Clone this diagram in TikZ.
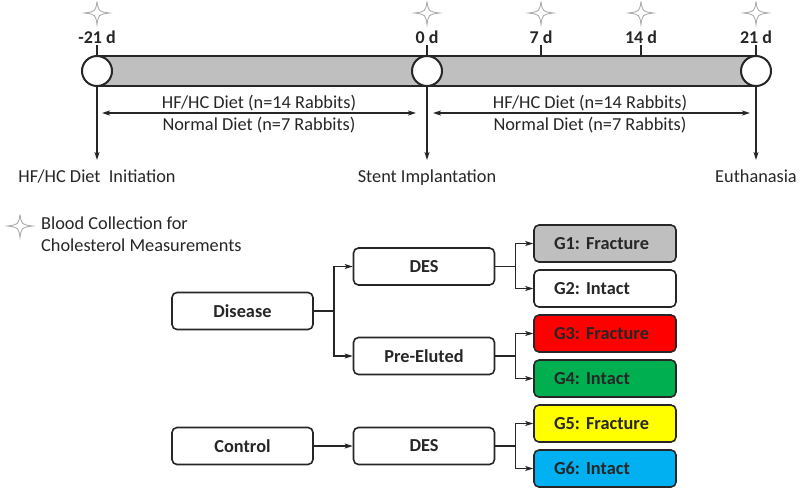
\documentclass[tikz,border=0pt]{standalone}
\usepackage{fontspec}
\setmainfont{Carlito}
\usetikzlibrary{arrows.meta}
\definecolor{barg}{HTML}{BFBFBF}
\definecolor{gred}{HTML}{FF0000}
\definecolor{ggreen}{HTML}{00B050}
\definecolor{gyellow}{HTML}{FFFF00}
\definecolor{gblue}{HTML}{00B0F0}
\definecolor{ln}{HTML}{262626}
\frenchspacing
\tikzset{
  txt/.style={font=\fontsize{18.3}{21}\selectfont, text=ln, inner sep=1pt},
  daylab/.style={font=\bfseries\fontsize{18}{21}\selectfont, text=ln, inner sep=1pt},
  circ/.style={circle, draw=ln, fill=white, line width=2pt, minimum size=30pt, inner sep=0pt},
  arr/.style={draw=ln, line width=1.4pt, -{Stealth[length=8pt,width=5pt,inset=2pt]}},
  darr/.style={draw=ln, line width=1.4pt, {Stealth[length=8pt,width=5pt,inset=2pt]}-{Stealth[length=8pt,width=5pt,inset=2pt]}},
  conn/.style={draw=ln, line width=1.6pt},
  box/.style={draw=ln, rounded corners=5pt, line width=1.6pt, minimum width=141pt, minimum height=37pt,
     font=\bfseries\fontsize{18.3}{21}\selectfont, text=ln, inner sep=0pt},
  gbox/.style={box, text width=102pt, align=left, inner xsep=20pt},
  starpic/.pic={\draw[gray!65, line width=0.9pt]
     (0,-11.5) .. controls (1.5,-1.5) .. (12.5,0) .. controls (1.5,1.5) .. (0,11.5)
     .. controls (-1.5,1.5) .. (-12.5,0) .. controls (-1.5,-1.5) .. (0,-11.5);}
}
\begin{document}
\begin{tikzpicture}[x=1pt,y=-1pt]
\useasboundingbox (0,0) rectangle (800,491);
% bar
\fill[barg] (97,56) rectangle (756,86);
\draw[ln, line width=2pt] (97,56) -- (756,56) (97,86) -- (756,86);
% ticks and stars
\foreach \x in {97,427,541,641,756}{
  \draw[ln, line width=2pt] (\x,56) -- (\x,45);
  \pic at (\x,13) {starpic};
}
\node[daylab] (dm21) at (97,37) {-21 d};
\node[daylab] (d0) at (427,37) {0 d};
\node[daylab] (d7) at (541,37) {7 d};
\node[daylab] (d14) at (641,37) {14 d};
\node[daylab] (d21) at (756,37) {21 d};
% circles
\node[circ] (c0) at (97,71) {};
\node[circ] (c1) at (427,71) {};
\node[circ] (c2) at (756,71) {};
% bottom labels
\node[txt, anchor=north] (l0) at (97,169) {HF/HC Diet\ \ Initiation};
\node[txt, anchor=north] (l1) at (427,169) {Stent Implantation};
\node[txt, anchor=north] (l2) at (756,169) {Euthanasia};
\draw[arr] (c0.south) -- ([yshift=9pt]l0.north);
\draw[arr] (c1.south) -- ([yshift=9pt]l1.north);
\draw[arr] (c2.south) -- ([yshift=9pt]l2.north);
% diet arrows
\coordinate (a0) at (97,113);
\coordinate (a1) at (427,113);
\coordinate (a2) at (756,113);
\draw[darr, shorten <=5pt, shorten >=11pt] (a0) -- (a1);
\draw[darr, shorten <=6pt, shorten >=6pt] (a1) -- (a2);
\node[txt] (t1) at (259,103) {HF/HC Diet (n=14 Rabbits)};
\node[txt] (t2) at (259,125) {Normal Diet (n=7 Rabbits)};
\node[txt] (t3) at (590,103) {HF/HC Diet (n=14 Rabbits)};
\node[txt] (t4) at (590,125) {Normal Diet (n=7 Rabbits)};
% legend
\pic at (20,226) {starpic};
\node[txt, anchor=west, align=left, font=\fontsize{18.3}{22}\selectfont] (leg) at (40,234) {Blood Collection for\\Cholesterol Measurements};
% flow boxes
\node[box] (dis) at (242.5,311) {Disease};
\node[box] (ctl) at (242.5,446) {Control};
\node[box] (des1) at (424,266.5) {DES};
\node[box] (pre) at (424,356) {Pre-Eluted};
\node[box] (des2) at (424,446) {DES};
\node[gbox, fill=barg] (g1) at (605,243.5) {G1: Fracture};
\node[gbox, fill=white] (g2) at (605,288.5) {G2: Intact};
\node[gbox, fill=gred] (g3) at (605,333.5) {G3: Fracture};
\node[gbox, fill=ggreen] (g4) at (605,378.5) {G4: Intact};
\node[gbox, fill=gyellow] (g5) at (605,423.5) {G5: Fracture};
\node[gbox, fill=gblue] (g6) at (605,468.5) {G6: Intact};
% connectors
\draw[conn] (dis.east) -- ++(20,0) coordinate (j1);
\draw[arr] (j1) |- (des1.west);
\draw[arr] (j1) |- (pre.west);
\draw[arr] (ctl.east) -- (des2.west);
\draw[conn] (des1.east) -- ++(20,0) coordinate (j2);
\draw[arr] (j2) |- (g1.west);
\draw[arr] (j2) |- (g2.west);
\draw[conn] (pre.east) -- ++(20,0) coordinate (j3);
\draw[arr] (j3) |- (g3.west);
\draw[arr] (j3) |- (g4.west);
\draw[conn] (des2.east) -- ++(20,0) coordinate (j4);
\draw[arr] (j4) |- (g5.west);
\draw[arr] (j4) |- (g6.west);
\end{tikzpicture}
\end{document}
